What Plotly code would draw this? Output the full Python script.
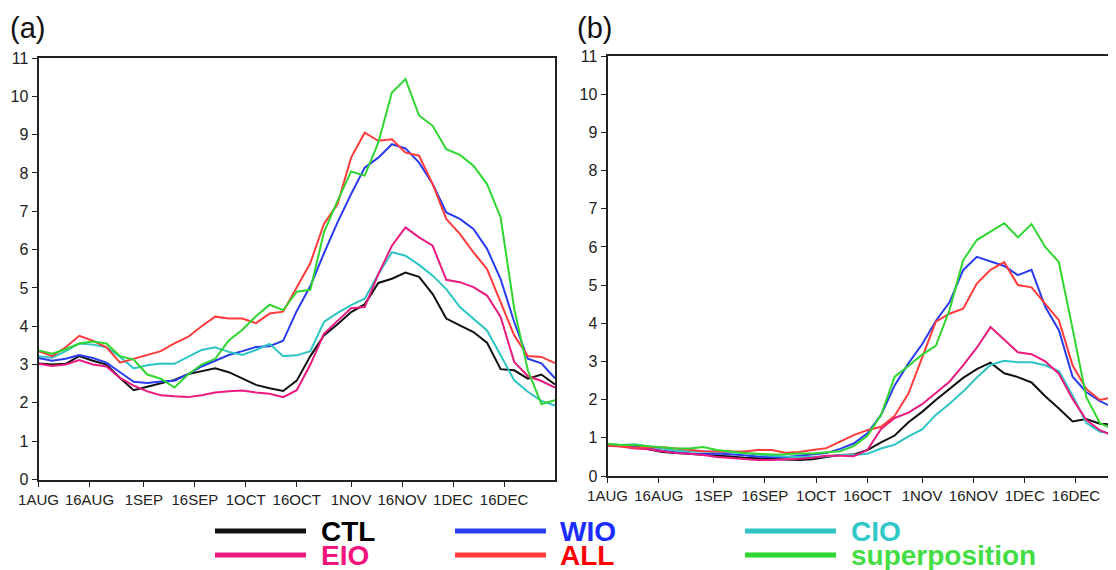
import plotly.graph_objects as go

# the page body has an 8px margin, so the figure is 8px smaller than the window
OFF = 8
W, H = 1116 - OFF, 570 - OFF

# sampling days (offset from 1 AUG), every 4 days to 31 DEC
days = list(range(0, 153, 4))
tick_days = [0, 15, 31, 46, 61, 76, 92, 107, 122, 137]
tick_labels = ["1AUG", "16AUG", "1SEP", "16SEP", "1OCT", "16OCT", "1NOV", "16NOV", "1DEC", "16DEC"]

# ---------------- panel (a) ----------------
ctl_a = [3.03, 3.0, 3.02, 3.22, 3.1, 3.0, 2.65, 2.33, 2.42, 2.52, 2.6, 2.75, 2.83, 2.9, 2.8, 2.63, 2.47,
         2.38, 2.31, 2.58, 3.22, 3.76, 4.05, 4.37, 4.57, 5.13, 5.24, 5.4, 5.29, 4.84, 4.2, 4.02, 3.85, 3.57,
         2.88, 2.85, 2.63, 2.74, 2.48]
wio_a = [3.17, 3.1, 3.15, 3.25, 3.17, 3.05, 2.8, 2.55, 2.52, 2.56, 2.58, 2.75, 2.95, 3.1, 3.25, 3.35, 3.46,
         3.48, 3.62, 4.4, 5.05, 5.9, 6.71, 7.45, 8.14, 8.4, 8.75, 8.64, 8.27, 7.71, 6.97, 6.8, 6.54, 6.02,
         5.23, 4.11, 3.15, 3.03, 2.64]
cio_a = [3.22, 3.18, 3.35, 3.55, 3.52, 3.45, 3.2, 2.9, 2.98, 3.03, 3.02, 3.2, 3.38, 3.45, 3.33, 3.25, 3.38,
         3.54, 3.22, 3.24, 3.35, 4.11, 4.35, 4.55, 4.72, 5.36, 5.93, 5.84, 5.6, 5.32, 4.97, 4.5, 4.2, 3.89,
         3.24, 2.59, 2.29, 2.05, 1.93]
eio_a = [3.02, 2.96, 3.0, 3.12, 3.0, 2.95, 2.65, 2.45, 2.3, 2.2, 2.17, 2.15, 2.2, 2.27, 2.3, 2.32, 2.27,
         2.24, 2.15, 2.33, 3.0, 3.8, 4.14, 4.47, 4.5, 5.36, 6.1, 6.58, 6.32, 6.1, 5.21, 5.15, 5.02, 4.8,
         4.24, 3.07, 2.7, 2.57, 2.4]
all_a = [3.35, 3.22, 3.45, 3.75, 3.62, 3.45, 3.05, 3.15, 3.27, 3.35, 3.55, 3.72, 4.0, 4.25, 4.2, 4.2, 4.08,
         4.33, 4.38, 5.0, 5.65, 6.67, 7.19, 8.4, 9.05, 8.84, 8.88, 8.53, 8.45, 7.71, 6.8, 6.41, 5.93, 5.49,
         4.63, 3.76, 3.22, 3.2, 3.04]
sup_a = [3.37, 3.28, 3.4, 3.55, 3.6, 3.55, 3.22, 3.13, 2.74, 2.63, 2.4, 2.74, 3.0, 3.15, 3.63, 3.91, 4.26,
         4.56, 4.42, 4.9, 4.95, 6.45, 7.27, 8.04, 7.93, 8.79, 10.1, 10.45, 9.5, 9.23, 8.62, 8.47, 8.19, 7.71,
         6.84, 4.46, 2.85, 1.97, 2.07]

# ---------------- panel (b) ----------------
ctl_b = [0.81, 0.79, 0.77, 0.7, 0.63, 0.6, 0.58, 0.56, 0.53, 0.51, 0.48, 0.46, 0.44, 0.43, 0.42, 0.44, 0.5,
         0.55, 0.56, 0.68, 0.88, 1.06, 1.41, 1.68, 1.99, 2.28, 2.57, 2.8, 2.97, 2.69, 2.59, 2.45, 2.09, 1.77,
         1.43, 1.49, 1.37, 1.34, 1.3]
wio_b = [0.81, 0.79, 0.77, 0.72, 0.66, 0.62, 0.59, 0.58, 0.59, 0.57, 0.53, 0.51, 0.49, 0.49, 0.53, 0.56, 0.6,
         0.71, 0.85, 1.12, 1.6, 2.38, 2.95, 3.45, 4.06, 4.55, 5.39, 5.74, 5.62, 5.5, 5.26, 5.4, 4.43, 3.82,
         2.6, 2.2, 1.96, 1.79, 1.7]
cio_b = [0.84, 0.81, 0.83, 0.78, 0.72, 0.66, 0.64, 0.64, 0.64, 0.62, 0.6, 0.56, 0.53, 0.51, 0.5, 0.5, 0.52,
         0.55, 0.55, 0.58, 0.72, 0.82, 1.04, 1.22, 1.6, 1.89, 2.21, 2.58, 2.91, 3.02, 2.98, 2.98, 2.9, 2.75,
         2.11, 1.39, 1.16, 1.11, 1.05]
eio_b = [0.79, 0.77, 0.72, 0.7, 0.65, 0.6, 0.58, 0.55, 0.5, 0.47, 0.44, 0.42, 0.42, 0.43, 0.45, 0.48, 0.53,
         0.53, 0.52, 0.68, 1.23, 1.52, 1.66, 1.88, 2.17, 2.47, 2.9, 3.36, 3.9, 3.58, 3.24, 3.19, 3.0, 2.68,
         2.02, 1.47, 1.2, 1.05, 1.0]
all_b = [0.81, 0.78, 0.74, 0.76, 0.75, 0.72, 0.68, 0.65, 0.64, 0.64, 0.64, 0.68, 0.68, 0.61, 0.63, 0.68, 0.73,
         0.9, 1.07, 1.2, 1.29, 1.58, 2.16, 3.1, 4.04, 4.25, 4.38, 5.04, 5.4, 5.6, 5.0, 4.94, 4.52, 4.08,
         2.9, 2.28, 1.99, 2.07, 2.0]
sup_b = [0.84, 0.81, 0.81, 0.78, 0.74, 0.72, 0.72, 0.76, 0.68, 0.64, 0.6, 0.58, 0.56, 0.57, 0.59, 0.59, 0.62,
         0.65, 0.78, 1.05, 1.6, 2.6, 2.88, 3.18, 3.41, 4.34, 5.65, 6.18, 6.4, 6.62, 6.25, 6.6, 6.0, 5.6,
         3.86, 2.07, 1.38, 1.23, 1.3]

names = ["CTL", "WIO", "CIO", "EIO", "ALL", "superposition"]
line_colors = ["#111111", "#2a3cf0", "#2ec4c4", "#ea1a7f", "#ff3b3b", "#2fd62f"]
text_colors = ["#000000", "#1a2cff", "#33c8c8", "#f0147c", "#ff0000", "#44dd44"]
panel_a = [ctl_a, wio_a, cio_a, eio_a, all_a, sup_a]
panel_b = [ctl_b, wio_b, cio_b, eio_b, all_b, sup_b]

fig = go.Figure()
for vals, nm, col in zip(panel_a, names, line_colors):
    fig.add_trace(go.Scatter(x=days, y=vals, mode="lines", name=nm, showlegend=False,
                             line=dict(color=col, width=2), xaxis="x", yaxis="y"))
for vals, nm, col in zip(panel_b, names, line_colors):
    fig.add_trace(go.Scatter(x=days, y=vals, mode="lines", name=nm, showlegend=False,
                             line=dict(color=col, width=2), xaxis="x2", yaxis="y2"))

xfont = dict(family="Liberation Sans, Arial, sans-serif", size=15, color="#222")
yfont = dict(family="Liberation Sans, Arial, sans-serif", size=16, color="#222")
axis_common = dict(showgrid=False, zeroline=False, showline=True, linewidth=2, linecolor="#222",
                   ticks="outside", ticklen=5, tickwidth=1.2, tickcolor="#222", automargin=False)

# convert screenshot pixel positions to paper fractions
def px(x):
    return (x - OFF) / W

def py(y):
    return 1 - (y - OFF) / H

fig.update_layout(
    width=W, height=H, margin=dict(l=0, r=0, t=0, b=0, autoexpand=False),
    paper_bgcolor="white", plot_bgcolor="white",
    xaxis=dict(domain=[px(38.5), px(555)], range=[0, 152], tickvals=tick_days, ticktext=tick_labels,
               mirror=True, anchor="y", tickfont=xfont, **axis_common),
    yaxis=dict(domain=[py(479.5), py(58)], range=[0, 11], dtick=1, tick0=0, mirror=True,
               anchor="x", tickfont=yfont, **axis_common),
    xaxis2=dict(domain=[px(607.5), 1.0], range=[0, 148.7], tickvals=tick_days, ticktext=tick_labels,
                mirror=True, anchor="y2", tickfont=xfont, **axis_common),
    yaxis2=dict(domain=[py(476), py(56)], range=[0, 11], dtick=1, tick0=0, mirror=False,
                anchor="x2", tickfont=yfont, **axis_common),
)

# panel labels
fig.add_annotation(text="(a)", xref="paper", yref="paper", x=px(8), y=py(28), xanchor="left",
                   yanchor="middle", showarrow=False,
                   font=dict(family="Liberation Sans, Arial, sans-serif", size=29, color="#111"))
fig.add_annotation(text="(b)", xref="paper", yref="paper", x=px(575), y=py(28), xanchor="left",
                   yanchor="middle", showarrow=False,
                   font=dict(family="Liberation Sans, Arial, sans-serif", size=29, color="#111"))

# legend (manual, 3 columns x 2 rows)
leg_line_x = [(215, 306), (455, 546), (745, 836)]
leg_text_x = [320, 559, 850]
leg_row_y = [531, 555]
legend_font = "Liberation Sans, Arial, sans-serif"
for i, (nm, lc, tc) in enumerate(zip(names, line_colors, text_colors)):
    row, col = divmod(i, 3)
    y = leg_row_y[row]
    x0, x1 = leg_line_x[col]
    fig.add_shape(type="line", xref="paper", yref="paper", x0=px(x0), x1=px(x1), y0=py(y), y1=py(y),
                  line=dict(color=lc, width=5))
    fig.add_annotation(text="<b>%s</b>" % nm, xref="paper", yref="paper", x=px(leg_text_x[col]), y=py(y),
                       xanchor="left", yanchor="middle", showarrow=False, borderpad=0,
                       font=dict(family=legend_font, size=28, color=tc))

fig.write_html("out.html")
